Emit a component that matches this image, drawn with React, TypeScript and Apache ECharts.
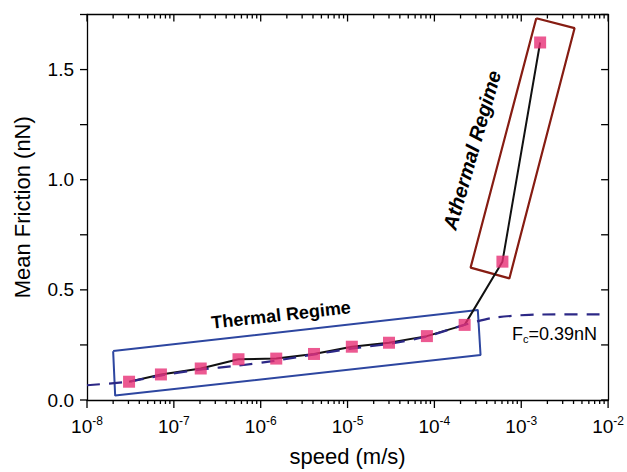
import React, { useEffect, useRef } from 'react';
import * as echarts from 'echarts';

// Measured data (speed in m/s, mean friction in nN)
const speed = [3.05e-8, 7.1e-8, 2.04e-7, 5.55e-7, 1.51e-6, 4.11e-6, 1.12e-5, 3.0e-5, 8.2e-5, 2.23e-4, 6.07e-4, 1.65e-3];
const friction = [0.083, 0.116, 0.143, 0.185, 0.188, 0.209, 0.242, 0.26, 0.29, 0.341, 0.628, 1.623];

// Thermal model fit (dashed curve)
const fitSpeed = [1e-8, 3e-8, 7e-8, 2e-7, 5.5e-7, 1.5e-6, 4e-6, 1.1e-5, 3e-5, 8e-5, 2.2e-4, 4.5e-4, 9e-4, 1.7e-3, 1e-2];
const fitFriction = [0.067, 0.083, 0.111, 0.138, 0.156, 0.179, 0.206, 0.233, 0.255, 0.287, 0.341, 0.372, 0.384, 0.388, 0.389];

// Annotation boxes (corners in data coordinates)
const thermalBoxSpeed = [2.0e-8, 3.16e-4, 3.4e-4, 2.11e-8, 2.0e-8];
const thermalBoxFriction = [0.222, 0.409, 0.204, 0.02, 0.222];
const athermalBoxSpeed = [1.49e-3, 4.11e-3, 7.3e-4, 2.61e-4, 1.49e-3];
const athermalBoxFriction = [1.733, 1.688, 0.552, 0.601, 1.733];

// Ticks and tick labels
const xMajorTicks = [1e-8, 1e-7, 1e-6, 1e-5, 1e-4, 1e-3, 1e-2];
const yLabelTicks = [0, 0.5, 1.0, 1.5];
const yTicks = [0, 0.25, 0.5, 0.75, 1.0, 1.25, 1.5, 1.75];
const Y_MIN = 0;
const Y_MAX = 1.75;

const FONT = 'Liberation Sans, Arial, Helvetica, sans-serif';

const xMinorTicks: number[] = [];
for (let i = 0; i < xMajorTicks.length - 1; i++) {
  for (let k = 2; k <= 9; k++) xMinorTicks.push(k * xMajorTicks[i]);
}
const X_MIN = xMajorTicks[0];
const X_MAX = xMajorTicks[xMajorTicks.length - 1];

const zip = (a: number[], b: number[]) => a.map((v, i) => [v, b[i]]);
const FRAME_W = 1.3;

export default function App() {
  const ref = useRef<HTMLDivElement>(null);
  useEffect(() => {
    document.body.style.margin = '0';
    const chart = echarts.init(ref.current!, null, { renderer: 'svg' });

    const frameLine = { show: true, onZero: false, lineStyle: { color: '#000', width: FRAME_W } };

    const textGraphics: any[] = [
      {
        type: 'text',
        x: 281,
        y: 315,
        rotation: (6.4 * Math.PI) / 180,
        style: {
          text: 'Thermal Regime',
          font: `bold 18px ${FONT}`,
          fill: '#000',
          align: 'center',
          verticalAlign: 'middle',
        },
        z: 10,
      },
      {
        type: 'text',
        x: 472,
        y: 150,
        rotation: (74 * Math.PI) / 180,
        style: {
          text: 'Athermal Regime',
          font: `italic bold 20px ${FONT}`,
          fill: '#000',
          align: 'center',
          verticalAlign: 'middle',
        },
        z: 10,
      },
      {
        type: 'text',
        x: 512,
        y: 334,
        style: {
          text: '{n|F}{s|c}{n|=0.39nN}',
          align: 'left',
          verticalAlign: 'middle',
          rich: {
            n: { fontSize: 18, fontFamily: FONT, fill: '#000', color: '#000', lineHeight: 20 },
            s: { fontSize: 11, fontFamily: FONT, fill: '#000', color: '#000', lineHeight: 11, verticalAlign: 'bottom' },
          },
        },
        z: 10,
      },
    ];

    const option: any = {
      animation: false,
      backgroundColor: '#ffffff',
      grid: { left: 87, right: 16, top: 14.5, bottom: 68, containLabel: false },
      xAxis: [
        {
          type: 'log',
          logBase: 10,
          min: X_MIN,
          max: X_MAX,
          position: 'bottom',
          splitLine: { show: false },
          axisLine: frameLine,
          axisTick: { show: false },
          axisLabel: {
            show: true,
            customValues: xMajorTicks,
            margin: 15,
            formatter: (v: number) => `{a|10}{b|${Math.round(Math.log10(v))}}`,
            rich: {
              a: { fontSize: 19, fontFamily: FONT, color: '#000', lineHeight: 22 },
              b: { fontSize: 12, fontFamily: FONT, color: '#000', lineHeight: 12, verticalAlign: 'top' },
            },
          },
          name: 'speed (m/s)',
          nameLocation: 'middle',
          nameGap: 45,
          nameTextStyle: { fontSize: 22, fontFamily: FONT, color: '#000' },
        },
        {
          type: 'log',
          logBase: 10,
          min: X_MIN,
          max: X_MAX,
          position: 'top',
          splitLine: { show: false },
          axisLine: frameLine,
          axisTick: { show: false },
          axisLabel: { show: false },
        },
      ],
      yAxis: [
        {
          type: 'value',
          position: 'left',
          min: Y_MIN,
          max: Y_MAX,
          interval: 0.25,
          splitLine: { show: false },
          axisLine: frameLine,
          axisTick: { show: false },
          axisLabel: {
            show: true,
            customValues: yLabelTicks,
            margin: 13,
            fontSize: 19,
            fontFamily: FONT,
            color: '#000',
            formatter: (v: number) => v.toFixed(1),
          },
          name: 'Mean Friction (nN)',
          nameLocation: 'middle',
          nameGap: 54,
          nameRotate: 90,
          nameTextStyle: { fontSize: 22, fontFamily: FONT, color: '#000' },
        },
        {
          type: 'value',
          position: 'right',
          min: Y_MIN,
          max: Y_MAX,
          interval: 0.25,
          splitLine: { show: false },
          axisLine: frameLine,
          axisTick: { show: false },
          axisLabel: { show: false },
        },
      ],
      series: [
        {
          name: 'thermal box',
          type: 'line',
          silent: true,
          data: zip(thermalBoxSpeed, thermalBoxFriction),
          symbol: 'none',
          lineStyle: { color: '#2d46a0', width: 2 },
          z: 1,
        },
        {
          name: 'athermal box',
          type: 'line',
          silent: true,
          data: zip(athermalBoxSpeed, athermalBoxFriction),
          symbol: 'none',
          lineStyle: { color: '#861c12', width: 2.2 },
          z: 1,
        },
        {
          name: 'data line',
          type: 'line',
          data: zip(speed, friction),
          symbol: 'none',
          lineStyle: { color: '#111', width: 2 },
          z: 2,
        },
        {
          name: 'fit',
          type: 'line',
          data: zip(fitSpeed, fitFriction),
          symbol: 'none',
          smooth: 0.2,
          lineStyle: { color: '#2c2886', width: 2.2, type: [13, 9] },
          z: 3,
        },
        {
          name: 'data',
          type: 'scatter',
          data: zip(speed, friction),
          symbol: 'rect',
          symbolSize: 12,
          itemStyle: { color: '#e72f76' },
          z: 4,
        },
      ],
      graphic: textGraphics,
    };

    chart.setOption(option);

    // Tick marks on all four frame edges, positioned through the chart's own scales
    const xPix = (v: number) => chart.convertToPixel({ xAxisIndex: 0 } as any, v) as number;
    const yPix = (v: number) => chart.convertToPixel({ yAxisIndex: 0 } as any, v) as number;
    const bottom = yPix(Y_MIN);
    const top = yPix(Y_MAX);
    const left = xPix(X_MIN);
    const right = xPix(X_MAX);
    const tick = (x1: number, y1: number, x2: number, y2: number) => ({
      type: 'line',
      silent: true,
      z: 20,
      shape: { x1, y1, x2, y2 },
      style: { stroke: '#000', lineWidth: FRAME_W },
    });
    const ticks: any[] = [];
    if ([bottom, top, left, right].every((n) => Number.isFinite(n))) {
      xMajorTicks.forEach((v) => {
        const x = xPix(v);
        ticks.push(tick(x, bottom, x, bottom + 8));
        ticks.push(tick(x, top, x, top + 7));
      });
      xMinorTicks.forEach((v) => {
        const x = xPix(v);
        ticks.push(tick(x, bottom, x, bottom + 4));
        ticks.push(tick(x, top, x, top + 4));
      });
      yTicks.forEach((v) => {
        const y = yPix(v);
        ticks.push(tick(left - 7, y, left, y));
        ticks.push(tick(right - 7, y, right, y));
      });
    }
    chart.setOption({ graphic: [...textGraphics, ...ticks] });

    return () => chart.dispose();
  }, []);
  return <div ref={ref} style={{ width: 627, height: 472 }} />;
}
